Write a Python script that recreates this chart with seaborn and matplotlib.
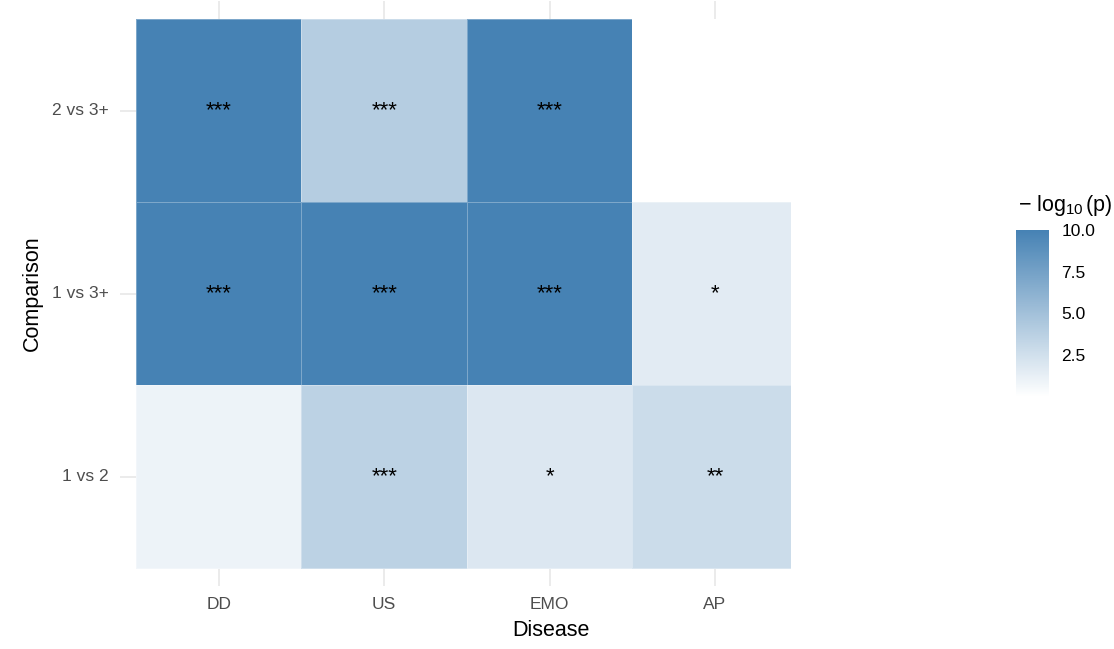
import numpy as np
import pandas as pd
import matplotlib
matplotlib.use("Agg")
import matplotlib.pyplot as plt
from matplotlib.colors import LinearSegmentedColormap
import seaborn as sns

# Categories
diseases = ["DD", "US", "EMO", "AP"]
comparisons = ["2 vs 3+", "1 vs 3+", "1 vs 2"]

# -log10(p) per disease, capped at 10 for display; NaN = comparison not available
neglog_2v3 = [10.0, 4.0, 10.0, np.nan]
neglog_1v3 = [10.0, 10.0, 10.0, 1.6]
neglog_1v2 = [1.0, 3.6, 1.9, 2.8]

# Colour bar ticks
cbar_ticks = [2.5, 5.0, 7.5, 10.0]
cbar_ticklabels = ["2.5", "5.0", "7.5", "10.0"]


def stars(v):
    if np.isnan(v):
        return ""
    if v > 3:
        return "***"
    if v > 2:
        return "**"
    if v > -np.log10(0.05):
        return "*"
    return ""


values = pd.DataFrame([neglog_2v3, neglog_1v3, neglog_1v2],
                      index=comparisons, columns=diseases)
labels = values.map(stars)

sns.set_theme(style="white")
plt.rcParams["font.family"] = ["Liberation Sans", "DejaVu Sans"]
plt.rcParams["mathtext.fontset"] = "custom"
plt.rcParams["mathtext.rm"] = "Liberation Sans"
plt.rcParams["mathtext.it"] = "Liberation Sans:italic"

fig = plt.figure(figsize=(11.14, 6.49), dpi=100)
ax = fig.add_axes([0.1073, 0.0966, 0.6028, 0.9023])
cax = fig.add_axes([0.912, 0.3883, 0.0296, 0.2573])

cmap = LinearSegmentedColormap.from_list("white_steelblue", ["white", "steelblue"])
cmap.set_bad("white")

sns.heatmap(values, ax=ax, cmap=cmap, vmin=0, vmax=10,
            annot=labels.values, fmt="",
            annot_kws=dict(color="black", fontsize=16),
            linewidths=0.5, linecolor=(1, 1, 1, 0.3),
            cbar_ax=cax, cbar_kws=dict(ticks=cbar_ticks))

# Light panel grid behind the tiles
ax.set_axisbelow(True)
ax.grid(True, color="#ebebeb", linewidth=1.4)
for s in ax.spines.values():
    s.set_visible(False)

ax.set_xlim(-0.1, 3.96)
ax.set_ylim(3.1, -0.1)

ax.tick_params(axis="both", length=0, labelsize=12.5, labelcolor="#4d4d4d")
ax.tick_params(axis="x", pad=8)
ax.tick_params(axis="y", pad=8)
ax.set_yticklabels(comparisons, rotation=0)
ax.set_xticklabels(diseases, rotation=0)

ax.set_xlabel("Disease", fontsize=15.5, color="black")
ax.xaxis.set_label_coords(0.6426, -0.0763)
ax.xaxis.label.set_va("center")
ax.set_ylabel("Comparison", fontsize=15.5, color="black")
ax.yaxis.set_label_coords(-0.130, 0.5)
ax.yaxis.label.set_va("center")

# Colour bar styling
cbar = ax.collections[0].colorbar
cbar.outline.set_visible(False)
cbar.set_ticks(cbar_ticks, labels=cbar_ticklabels)
cax.tick_params(direction="in", color="white", length=5, width=0.8,
                left=True, right=True, labelleft=False, labelright=True,
                labelsize=12.5, labelcolor="black", pad=9)

fig.text(1018 / 1114, (649 - 206) / 649, r"$-\ \log_{10}(\mathrm{p})$",
         ha="left", va="center", fontsize=15.5, color="black")

fig.savefig("out.png", dpi=100, facecolor="white")
